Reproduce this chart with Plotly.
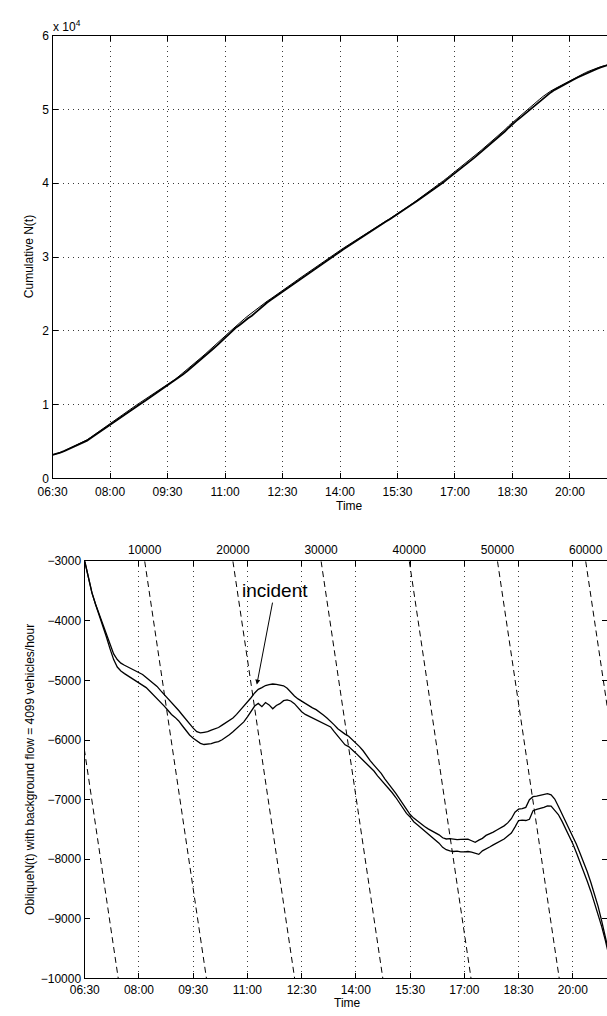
import plotly.graph_objects as go

# ---------------- data ----------------
Q0 = 4099          # background flow, vehicles/hour
T0 = 6.5           # 06:30
N_START = 3200     # cumulative count at 06:30
OFFSET = N_START + 3000

time_ticks = [6.5, 8.0, 9.5, 11.0, 12.5, 14.0, 15.5, 17.0, 18.5, 20.0]
time_labels = ["06:30", "08:00", "09:30", "11:00", "12:30", "14:00", "15:30", "17:00", "18:30", "20:00"]
cum_ticks = [0, 10000, 20000, 30000, 40000, 50000, 60000]
cum_labels = ["0", "1", "2", "3", "4", "5", "6"]
obl_ticks = [-10000, -9000, -8000, -7000, -6000, -5000, -4000, -3000]
obl_labels = ["\u221210000", "\u22129000", "\u22128000", "\u22127000", "\u22126000", "\u22125000", "\u22124000", "\u22123000"]
count_ticks = [10000, 20000, 30000, 40000, 50000, 60000]
count_labels = ["10000", "20000", "30000", "40000", "50000", "60000"]
iso_counts = [0, 10000, 20000, 30000, 40000, 50000, 60000]

# oblique N(t) sampled every 0.1 h from 06:30 to 21:00
oblique_upper = [
    -3000, -3290, -3530, -3720, -3890, -4060, -4240, -4410, -4555, -4650,
    -4710, -4745, -4775, -4800, -4830, -4865, -4900, -4950, -5000, -5045,
    -5100, -5170, -5235, -5300, -5365, -5440, -5505, -5580, -5660, -5740,
    -5800, -5860, -5880, -5870, -5860, -5835, -5810, -5790, -5750, -5710,
    -5665, -5630, -5570, -5500, -5440, -5365, -5290, -5210, -5150, -5120,
    -5085, -5070, -5060, -5065, -5075, -5090, -5130, -5200, -5260, -5310,
    -5350, -5390, -5420, -5460, -5490, -5530, -5580, -5630, -5680, -5745,
    -5810, -5860, -5900, -5935, -5990, -6050, -6110, -6180, -6270, -6350,
    -6420, -6490, -6560, -6650, -6740, -6810, -6890, -6980, -7070, -7160,
    -7250, -7310, -7360, -7405, -7450, -7490, -7520, -7555, -7590, -7640,
    -7660, -7655, -7665, -7670, -7668, -7672, -7665, -7690, -7715, -7680,
    -7650, -7600, -7575, -7545, -7510, -7475, -7440, -7390, -7320, -7210,
    -7160, -7150, -7130, -7000, -6950, -6940, -6930, -6920, -6900, -6920,
    -6990, -7110, -7235, -7360, -7485, -7610, -7750, -7900, -8050, -8210,
    -8390, -8580, -8790, -9040, -9300, -9570,
]
oblique_lower = [
    -3000, -3290, -3530, -3725, -3900, -4080, -4270, -4470, -4650, -4775,
    -4840, -4885, -4925, -4965, -5000, -5040, -5075, -5120, -5180, -5240,
    -5300, -5365, -5430, -5500, -5570, -5620, -5680, -5760, -5840, -5915,
    -5970, -6020, -6055, -6075, -6070, -6060, -6040, -6025, -5995, -5955,
    -5910, -5860, -5810, -5760, -5695, -5610, -5510, -5430, -5385, -5440,
    -5370, -5410, -5475, -5420, -5390, -5340, -5325, -5345, -5390, -5460,
    -5525, -5570, -5600, -5625, -5650, -5690, -5715, -5740, -5780, -5860,
    -5930, -6010, -6080, -6110, -6160, -6220, -6280, -6340, -6400, -6460,
    -6520, -6600, -6670, -6730, -6795, -6880, -6960, -7050, -7150, -7230,
    -7290, -7370, -7420, -7470, -7530, -7580, -7630, -7680, -7730, -7800,
    -7840, -7860, -7870, -7865, -7878, -7876, -7870, -7880, -7900, -7918,
    -7860, -7820, -7795, -7760, -7725, -7695, -7660, -7610, -7560, -7460,
    -7350, -7345, -7350, -7330, -7185, -7165, -7150, -7130, -7105, -7110,
    -7180, -7250, -7360, -7480, -7610, -7740, -7890, -8040, -8200, -8370,
    -8540, -8730, -8920, -9130, -9360, -9620,
]

hours = [T0 + 0.1 * i for i in range(len(oblique_upper))]
cum_upper = [v + Q0 * (h - T0) + OFFSET for h, v in zip(hours, oblique_upper)]
cum_lower = [v + Q0 * (h - T0) + OFFSET for h, v in zip(hours, oblique_lower)]

# ---------------- layout geometry ----------------
W, H = 607, 1016
FONT = "Liberation Sans, Arial, Helvetica, sans-serif"
TOP_XR = [6.5, 20.966]
BOT_XR = [6.5, 20.946]
N_RANGE = [N_START, N_START + Q0 * (BOT_XR[1] - T0)]

fig = go.Figure()

# top: cumulative curves
fig.add_trace(go.Scatter(x=hours, y=cum_lower, mode="lines", xaxis="x", yaxis="y",
                         line=dict(color="black", width=1.8), showlegend=False, hoverinfo="skip"))
fig.add_trace(go.Scatter(x=hours, y=cum_upper, mode="lines", xaxis="x", yaxis="y",
                         line=dict(color="black", width=1.0), showlegend=False, hoverinfo="skip"))

# bottom: iso-count dashed lines (drawn on count axis)
for n in iso_counts:
    fig.add_trace(go.Scatter(x=[n, n + 7000], y=[-3000, -10000], mode="lines",
                             xaxis="x3", yaxis="y2",
                             line=dict(color="black", width=1, dash="6px,4px"),
                             showlegend=False, hoverinfo="skip"))

# bottom: oblique curves
fig.add_trace(go.Scatter(x=hours, y=oblique_upper, mode="lines", xaxis="x2", yaxis="y2",
                         line=dict(color="black", width=1.3), showlegend=False, hoverinfo="skip"))
fig.add_trace(go.Scatter(x=hours, y=oblique_lower, mode="lines", xaxis="x2", yaxis="y2",
                         line=dict(color="black", width=1.3), showlegend=False, hoverinfo="skip"))
# anchor for right-hand tick axis
fig.add_trace(go.Scatter(x=[hours[0]], y=[oblique_upper[0]], mode="markers", xaxis="x2", yaxis="y3",
                         marker=dict(opacity=0), showlegend=False, hoverinfo="skip"))

tickfont = dict(family=FONT, size=12, color="black")
grid = dict(showgrid=True, gridcolor="#3a3a3a", griddash="1px,4px", gridwidth=1)
axcommon = dict(showline=True, linecolor="black", linewidth=1.4, ticks="inside", ticklen=5,
                tickcolor="black", tickwidth=1, zeroline=False, tickfont=tickfont)

def px_x(p):
    return p / W

def px_y(p):
    return (H - p) / H

fig.update_layout(
    width=W, height=H,
    margin=dict(l=0, r=0, t=0, b=0),
    paper_bgcolor="white", plot_bgcolor="white",
    font=dict(family=FONT, size=12, color="black"),
    xaxis=dict(domain=[px_x(38.5), 1], range=TOP_XR, anchor="y", ticklabelstandoff=2,
               tickvals=time_ticks, ticktext=time_labels, mirror="ticks", **grid, **axcommon),
    yaxis=dict(domain=[px_y(478), px_y(29)], range=[0, 60000], anchor="x",
               tickvals=cum_ticks, ticktext=cum_labels, **grid, **axcommon),
    xaxis2=dict(domain=[px_x(71.5), 1], range=BOT_XR, anchor="y2",
                tickvals=time_ticks, ticktext=time_labels, mirror="ticks", **grid, **axcommon),
    yaxis2=dict(domain=[px_y(985), px_y(562)], range=[-10000, -3000], anchor="x2",
                tickvals=obl_ticks, ticktext=obl_labels, showgrid=False, **axcommon),
    xaxis3=dict(overlaying="x2", side="top", anchor="y2", range=N_RANGE,
                tickvals=count_ticks, ticktext=count_labels, ticks="", showline=False,
                showgrid=False, zeroline=False, tickfont=tickfont, ticklabelstandoff=4),
    yaxis3=dict(overlaying="y2", side="right", anchor="x2", range=[-10000, -3000],
                tickvals=obl_ticks, ticks="inside", ticklen=5, tickcolor="black",
                showticklabels=False, showline=False, showgrid=False, zeroline=False),
)

ann_font = dict(family=FONT, size=12, color="black")
fig.add_annotation(text="x 10<sup>4</sup>", xref="paper", yref="paper", x=px_x(37), y=px_y(19),
                   xanchor="left", yanchor="middle", showarrow=False, font=ann_font)
fig.add_annotation(text="Time", xref="paper", yref="paper", x=px_x(343), y=px_y(506),
                   xanchor="center", yanchor="middle", showarrow=False, font=ann_font)
fig.add_annotation(text="Cumulative N(t)", xref="paper", yref="paper", x=px_x(14), y=px_y(253),
                   xanchor="center", yanchor="middle", textangle=-90, showarrow=False, font=ann_font)
fig.add_annotation(text="Time", xref="paper", yref="paper", x=px_x(341), y=px_y(1010),
                   xanchor="center", yanchor="middle", showarrow=False, font=ann_font)
fig.add_annotation(text="ObliqueN(t) with background flow = 4099 vehicles/hour",
                   xref="paper", yref="paper", x=px_x(16), y=px_y(773),
                   xanchor="center", yanchor="middle", textangle=-90, showarrow=False, font=ann_font)
fig.add_annotation(text="incident", xref="x2", yref="y2", x=11.26, y=-5070,
                   ax=18, ay=-94, showarrow=True, arrowhead=2, arrowsize=1, arrowwidth=1,
                   arrowcolor="black", font=dict(family=FONT, size=19, color="black"))

fig.write_html("out.html")
